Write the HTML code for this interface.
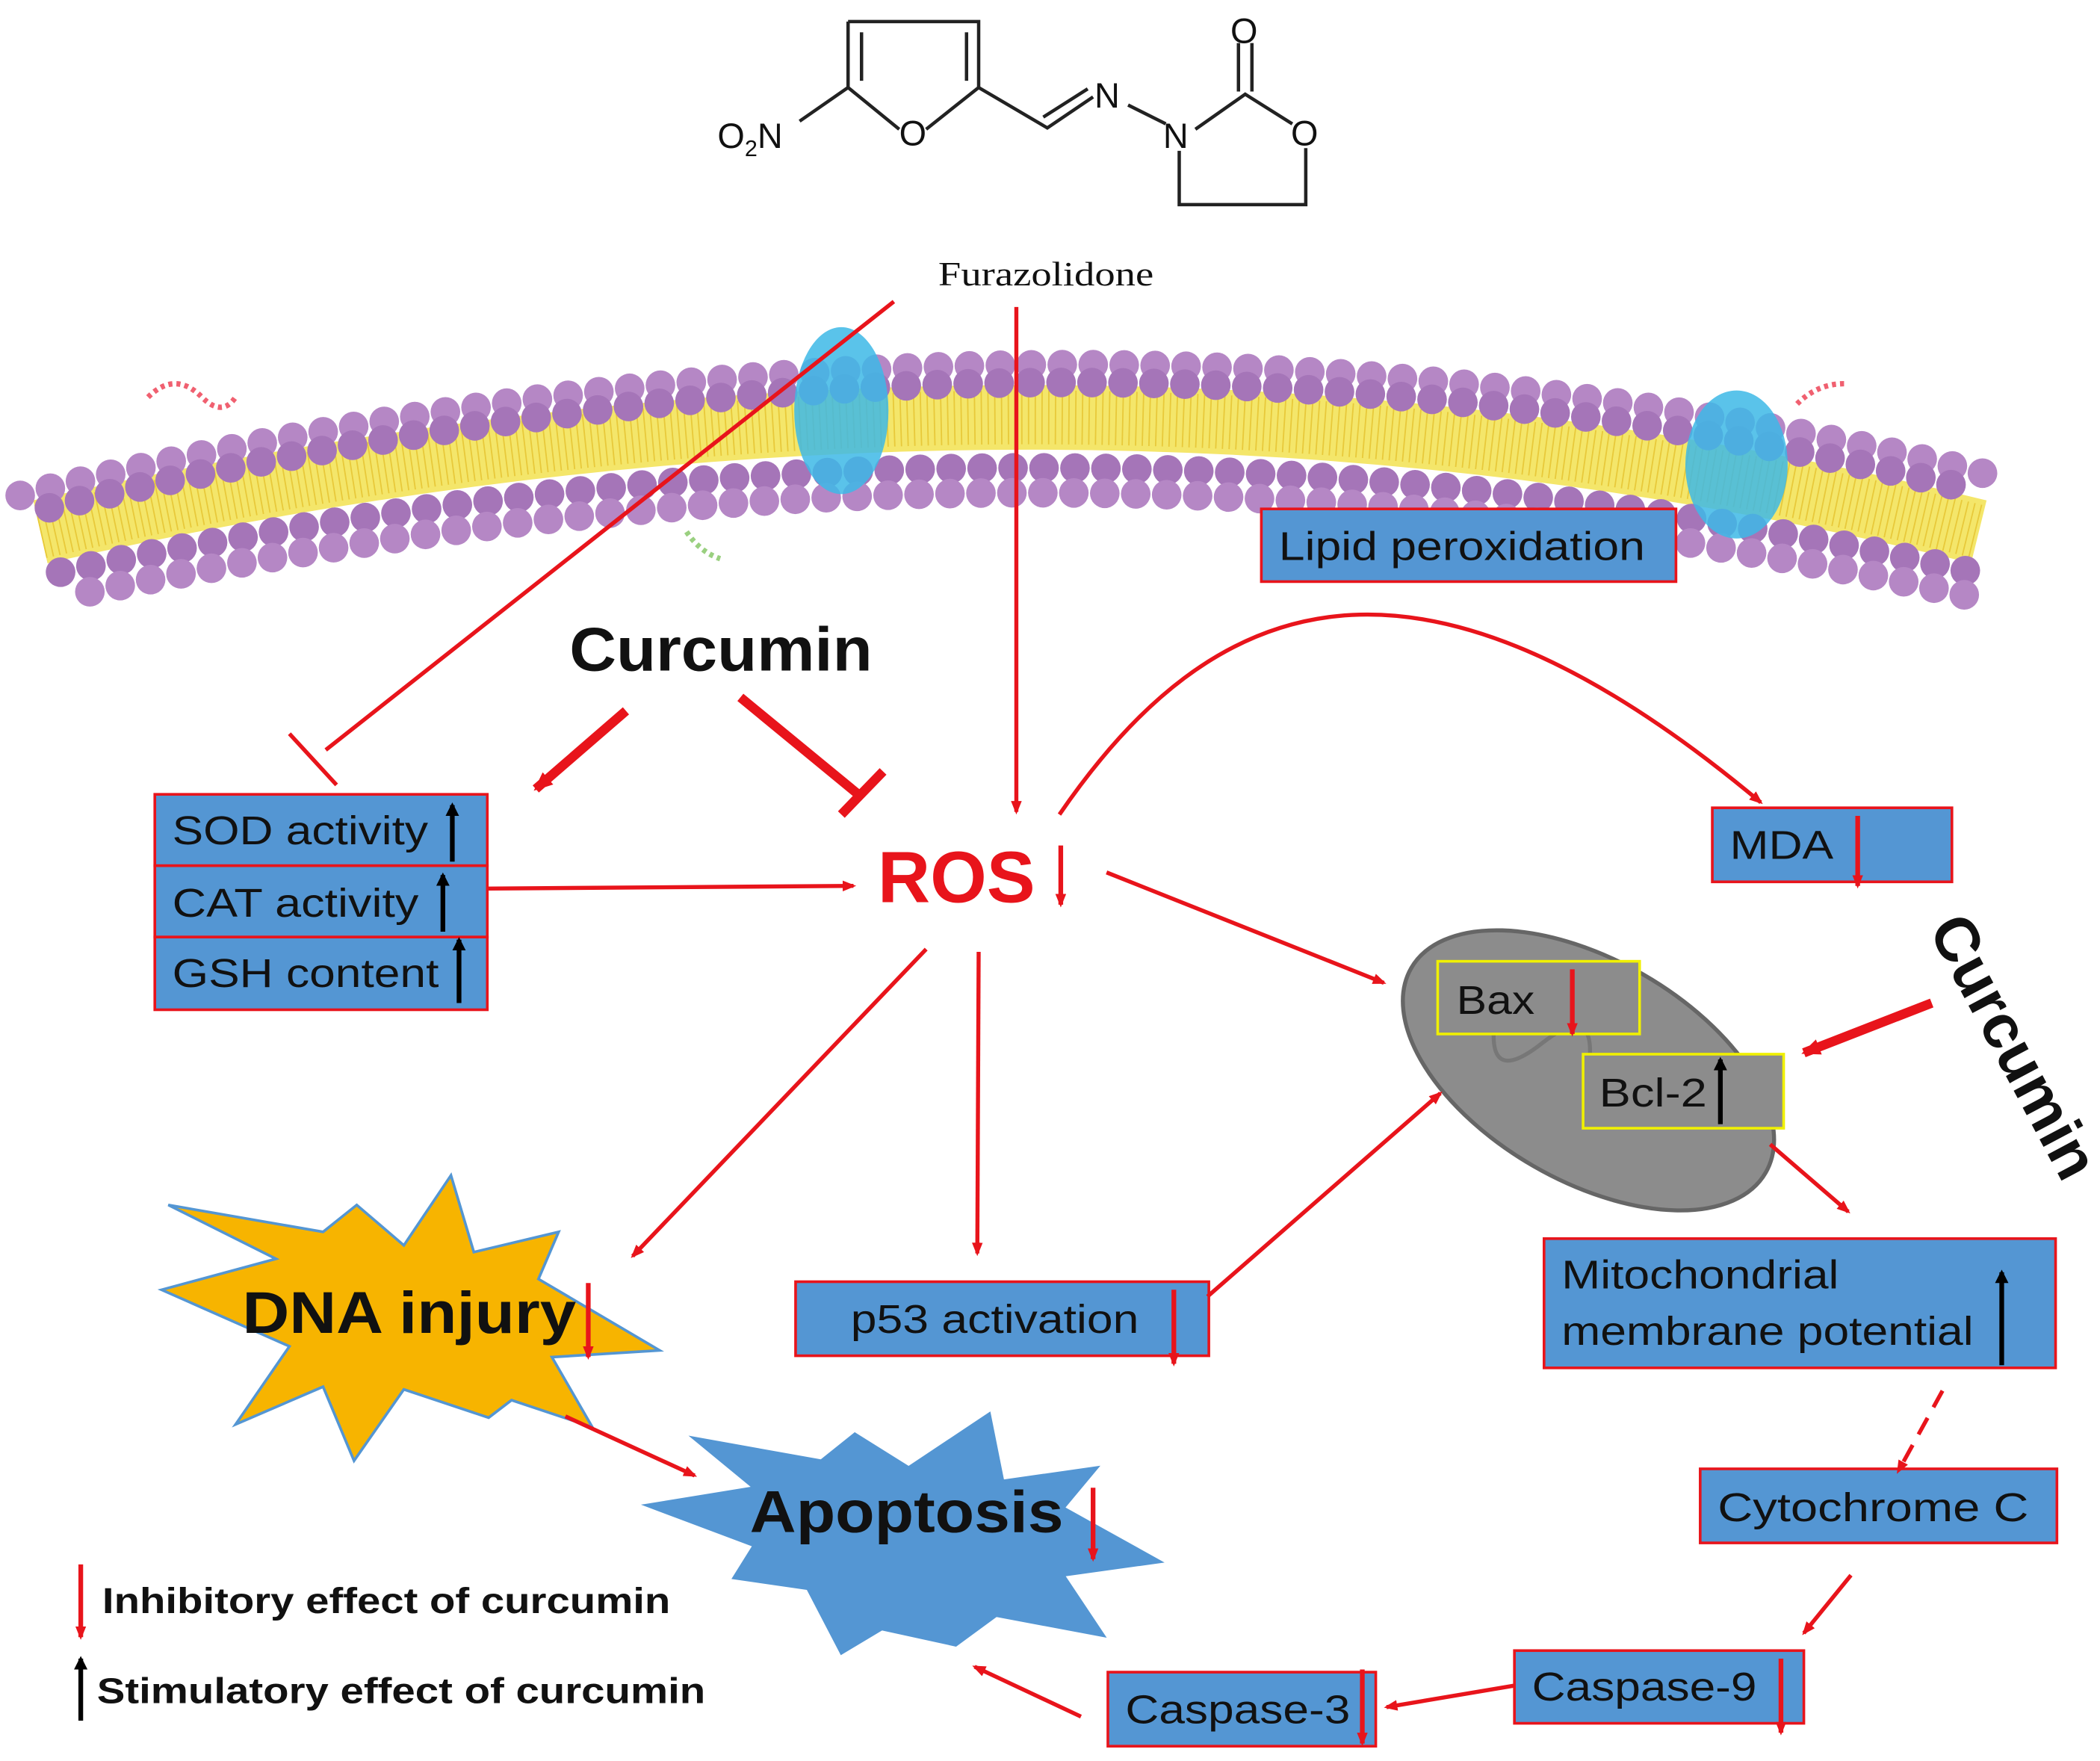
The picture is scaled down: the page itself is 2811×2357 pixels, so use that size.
<!DOCTYPE html>
<html><head><meta charset="utf-8"><style>
html,body{margin:0;padding:0;background:#fff;}
svg{display:block;}
text{font-family:"Liberation Sans",sans-serif;}
</style></head><body>
<svg width="2811" height="2357" viewBox="0 0 1560 1308" preserveAspectRatio="none" xmlns="http://www.w3.org/2000/svg">
<defs>
<marker id="ahs" markerWidth="10" markerHeight="8" refX="8" refY="4" orient="auto" markerUnits="userSpaceOnUse"><path d="M0,0 L10,4 L0,8 Z" fill="#e8141b"/></marker>
<marker id="ahl" markerWidth="14" markerHeight="12" refX="12" refY="6" orient="auto" markerUnits="userSpaceOnUse"><path d="M0,0 L14,6 L0,12 Z" fill="#e8141b"/></marker>
<marker id="ahb" markerWidth="10" markerHeight="10" refX="8" refY="5" orient="auto" markerUnits="userSpaceOnUse"><path d="M0,0 L10,5 L0,10 Z" fill="#000"/></marker>
</defs>

<!-- molecule -->
<g stroke="#222" stroke-width="2.5" fill="none">
<path d="M630,16 L727,16 L727,65 L688,96 M668,96 L630,65 L630,16"/>
<path d="M640,24 L640,60 M718,24 L718,60"/>
<path d="M630,65 L594,90"/>
<path d="M727,65 L778,95 L812,72 M775,87 L808,66"/>
<path d="M838,78 L866,92"/>
<path d="M888,96 L925,70 L960,92 M970,110 L970,152 L876,152 L876,112"/>
<path d="M920,68 L920,32 M930,68 L930,32"/>
</g>
<g font-size="26" fill="#111">
<text x="533" y="110">O<tspan font-size="17" dy="6">2</tspan><tspan dy="-6">N</tspan></text>
<text x="668" y="108">O</text>
<text x="813" y="80">N</text>
<text x="864" y="110">N</text>
<text x="959" y="108">O</text>
<text x="914" y="32">O</text>
</g>
<text x="697" y="212" font-size="25" fill="#111" textLength="160" lengthAdjust="spacingAndGlyphs" style="font-family:'Liberation Serif',serif">Furazolidone</text>

<!-- membrane -->
<path d="M30,395 Q780,225 1470,395" stroke="#f4e66a" stroke-width="48" fill="none"/>
<path d="M30,395 Q780,225 1470,395" stroke="#e8c93a" stroke-width="40" fill="none" stroke-dasharray="1 4"/>
<g fill="none" stroke-linecap="round">
<path d="M15,368 Q780,182 1475,352" stroke="#b587c5" stroke-width="22" stroke-dasharray="0 23"/>
<path d="M25,380 Q780,196 1470,365" stroke="#a575b8" stroke-width="22" stroke-dasharray="0 23" stroke-dashoffset="11"/>
<path d="M45,425 Q780,270 1465,425" stroke="#a575b8" stroke-width="22" stroke-dasharray="0 23"/>
<path d="M55,442 Q780,290 1460,442" stroke="#b587c5" stroke-width="22" stroke-dasharray="0 23" stroke-dashoffset="11"/>
</g>
<ellipse cx="625" cy="305" rx="35" ry="62" fill="#3db8e6" opacity="0.85"/>
<ellipse cx="1290" cy="345" rx="38" ry="55" fill="#3db8e6" opacity="0.85"/>
<path d="M110,295 q20,-20 40,0 q15,15 25,0" stroke="#f06070" stroke-width="4" fill="none" stroke-dasharray="3 3"/>
<path d="M1335,300 q15,-15 35,-15" stroke="#f06070" stroke-width="4" fill="none" stroke-dasharray="3 3"/>
<path d="M510,395 q10,15 25,20" stroke="#9ad080" stroke-width="4" fill="none" stroke-dasharray="3 3"/>

<!-- boxes -->
<g fill="#5496d3" stroke="#e8141b" stroke-width="2">
<rect x="937" y="378" width="308" height="54"/>
<rect x="115" y="590" width="247" height="53"/>
<rect x="115" y="643" width="247" height="53"/>
<rect x="115" y="696" width="247" height="54"/>
<rect x="1272" y="600" width="178" height="55"/>
<rect x="1147" y="920" width="380" height="96"/>
<rect x="1263" y="1091" width="265" height="55"/>
<rect x="1125" y="1226" width="215" height="54"/>
<rect x="823" y="1242" width="199" height="55"/>
<rect x="591" y="952" width="307" height="55"/>
</g>
<g font-size="30" fill="#111" lengthAdjust="spacingAndGlyphs">
<text x="950" y="416" textLength="272" lengthAdjust="spacingAndGlyphs">Lipid peroxidation</text>
<text x="128" y="627" textLength="190" lengthAdjust="spacingAndGlyphs">SOD activity</text>
<text x="128" y="681" textLength="183" lengthAdjust="spacingAndGlyphs">CAT activity</text>
<text x="128" y="733" textLength="198" lengthAdjust="spacingAndGlyphs">GSH content</text>
<text x="1285" y="638" textLength="77" lengthAdjust="spacingAndGlyphs">MDA</text>
<text x="1160" y="957" textLength="206" lengthAdjust="spacingAndGlyphs">Mitochondrial</text>
<text x="1160" y="999" textLength="306" lengthAdjust="spacingAndGlyphs">membrane potential</text>
<text x="1276" y="1130" textLength="231" lengthAdjust="spacingAndGlyphs">Cytochrome  C</text>
<text x="1138" y="1263" textLength="167" lengthAdjust="spacingAndGlyphs">Caspase-9</text>
<text x="836" y="1280" textLength="167" lengthAdjust="spacingAndGlyphs">Caspase-3</text>
<text x="632" y="990" textLength="214" lengthAdjust="spacingAndGlyphs">p53 activation</text>
</g>

<!-- mitochondrion -->
<g transform="rotate(30 1180 795)">
<ellipse cx="1180" cy="795" rx="152" ry="82" fill="#8c8c8c" stroke="#666" stroke-width="3"/>
<path d="M1060,795 q20,-50 40,0 q20,50 40,0 q20,-50 40,0 q20,50 40,0 q20,-50 40,0" stroke="#777" stroke-width="3" fill="none"/>
</g>
<rect x="1068" y="714" width="150" height="54" fill="#8c8c8c" stroke="#f0f000" stroke-width="2"/>
<rect x="1176" y="783" width="149" height="55" fill="#8c8c8c" stroke="#f0f000" stroke-width="2"/>
<text x="1082" y="753" font-size="30" fill="#111" textLength="58" lengthAdjust="spacingAndGlyphs">Bax</text>
<text x="1188" y="822" font-size="30" fill="#111" textLength="80" lengthAdjust="spacingAndGlyphs">Bcl-2</text>

<!-- stars -->
<polygon points="120,958 205,935 125,895 240,915 265,895 300,925 335,873 352,930 415,915 400,950 490,1003 410,1008 440,1060 380,1040 363,1053 300,1032 263,1085 240,1030 175,1058 215,1000" fill="#f7b400" stroke="#5496d3" stroke-width="2"/>
<polygon points="480,1118 560,1105 515,1068 610,1085 635,1065 675,1090 735,1050 745,1100 815,1090 790,1120 862,1160 790,1170 820,1215 740,1200 710,1222 655,1210 625,1228 600,1180 545,1172 560,1148" fill="#5496d3" stroke="#5496d3" stroke-width="2"/>
<text x="180" y="990" font-size="44" font-weight="bold" fill="#111" textLength="248" lengthAdjust="spacingAndGlyphs">DNA injury</text>
<text x="557" y="1138" font-size="44" font-weight="bold" fill="#111" textLength="233" lengthAdjust="spacingAndGlyphs">Apoptosis</text>

<!-- big labels -->
<text x="423" y="498" font-size="46" font-weight="bold" fill="#111" textLength="225" lengthAdjust="spacingAndGlyphs">Curcumin</text>
<text x="652" y="670" font-size="54" font-weight="bold" fill="#e8141b">ROS</text>
<text transform="translate(1432,690) rotate(62)" font-size="46" font-weight="bold" fill="#111">Curcumin</text>

<!-- connectors -->
<g stroke="#e8141b" stroke-width="3" fill="none">
<path d="M664,224 L242,557"/>
<path d="M215,545 L250,583"/>
<path d="M755,228 L755,603" marker-end="url(#ahs)"/>
<path d="M362,660 L634,658" marker-end="url(#ahs)"/>
<path d="M787,605 C900,440 1050,380 1308,596" marker-end="url(#ahs)"/>
<path d="M822,648 L1028,730" marker-end="url(#ahs)"/>
<path d="M688,705 L470,933" marker-end="url(#ahs)"/>
<path d="M727,707 L726,931" marker-end="url(#ahs)"/>
<path d="M897,963 L1070,812" marker-end="url(#ahs)"/>
<path d="M1315,850 L1373,900" marker-end="url(#ahs)"/>
<path d="M1443,1033 L1410,1093" stroke-dasharray="14 9" marker-end="url(#ahs)"/>
<path d="M1375,1170 L1340,1213" marker-end="url(#ahs)"/>
<path d="M1125,1252 L1030,1268" marker-end="url(#ahs)"/>
<path d="M803,1275 L724,1238" marker-end="url(#ahs)"/>
<path d="M420,1052 L516,1096" marker-end="url(#ahs)"/>
</g>
<g stroke="#e8141b" stroke-width="7" fill="none">
<path d="M465,528 L398,586" marker-end="url(#ahl)"/>
<path d="M550,518 L640,592"/>
<path d="M625,605 L656,573"/>
<path d="M1435,745 L1340,782" marker-end="url(#ahl)"/>
</g>

<!-- small indicator arrows -->
<g stroke="#e8141b" stroke-width="3.5" fill="none">
<path d="M788,628 L788,672" marker-end="url(#ahs)"/>
<path d="M1380,606 L1380,658" marker-end="url(#ahs)"/>
<path d="M1168,720 L1168,768" marker-end="url(#ahs)"/>
<path d="M437,953 L437,1008" marker-end="url(#ahs)"/>
<path d="M872,958 L872,1013" marker-end="url(#ahs)"/>
<path d="M812,1105 L812,1158" marker-end="url(#ahs)"/>
<path d="M1012,1240 L1012,1295" marker-end="url(#ahs)"/>
<path d="M1323,1232 L1323,1287" marker-end="url(#ahs)"/>
<path d="M60,1162 L60,1216" marker-end="url(#ahs)"/>
</g>
<g stroke="#000" stroke-width="3.5" fill="none">
<path d="M336,640 L336,598" marker-end="url(#ahb)"/>
<path d="M329,692 L329,650" marker-end="url(#ahb)"/>
<path d="M341,745 L341,698" marker-end="url(#ahb)"/>
<path d="M1278,835 L1278,787" marker-end="url(#ahb)"/>
<path d="M1487,1014 L1487,945" marker-end="url(#ahb)"/>
<path d="M60,1278 L60,1232" marker-end="url(#ahb)"/>
</g>

<!-- legend -->
<text x="76" y="1198" font-size="27" font-weight="bold" fill="#111" textLength="422" lengthAdjust="spacingAndGlyphs">Inhibitory effect of curcumin</text>
<text x="72" y="1265" font-size="27" font-weight="bold" fill="#111" textLength="452" lengthAdjust="spacingAndGlyphs">Stimulatory effect of curcumin</text>
</svg>
</body></html>
